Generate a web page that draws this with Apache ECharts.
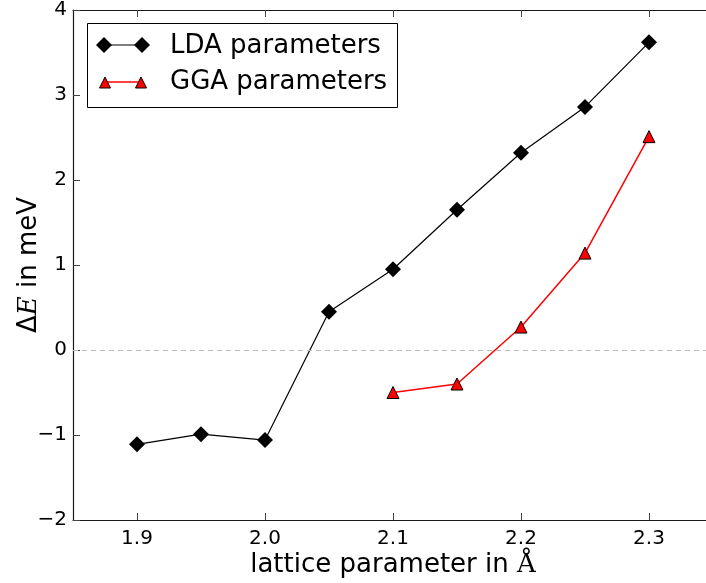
<!DOCTYPE html>
<html>
<head>
<meta charset="utf-8">
<script src="https://cdn.jsdelivr.net/npm/echarts@6/dist/echarts.min.js"></script>
<style>html,body{margin:0;padding:0;background:#fff;}#c{width:706px;height:583px;}</style>
</head>
<body>
<div id="c"></div>
<script>
const latticeLDA = [1.9, 1.95, 2.0, 2.05, 2.1, 2.15, 2.2, 2.25, 2.3];
const ldaValues = [-1.11, -0.99, -1.06, 0.45, 0.95, 1.65, 2.32, 2.86, 3.62];
const latticeGGA = [2.1, 2.15, 2.2, 2.25, 2.3];
const ggaValues = [-0.50, -0.40, 0.27, 1.14, 2.51];
const xTickValues = [1.9, 2.0, 2.1, 2.2, 2.3];
const seriesNames = ['LDA parameters', 'GGA parameters'];

const FONT = 'DejaVu Sans';
const chart = echarts.init(document.getElementById('c'), null, {renderer: 'canvas'});

const tickStyle = {inside: true, length: 7, lineStyle: {color: '#444', width: 1}};
const axLine = {show: true, onZero: false, lineStyle: {color: '#1a1a1a', width: 1.2}};

chart.setOption({
  animation: false,
  backgroundColor: '#fff',
  grid: {left: 73, top: 10, right: -7, bottom: 63, containLabel: false, outerBoundsMode: 'none'},
  xAxis: [{
    type: 'value', min: 1.85, max: 2.35,
    axisLine: axLine,
    axisTick: {...tickStyle, customValues: xTickValues},
    axisLabel: {customValues: xTickValues, formatter: v => v.toFixed(1), color: '#000', fontFamily: FONT, fontSize: 20, margin: 9},
    splitLine: {show: false},
    name: 'lattice parameter in {s|Å}',
    nameLocation: 'middle', nameGap: 32, nameMoveOverlap: false,
    nameTextStyle: {color: '#000', fontFamily: FONT, fontSize: 26,
      rich: {s: {fontFamily: 'DejaVu Serif', fontSize: 26, color: '#000'}}}
  }, {
    type: 'value', min: 1.85, max: 2.35, position: 'top',
    axisLine: axLine,
    axisTick: {...tickStyle, customValues: xTickValues},
    axisLabel: {show: false},
    splitLine: {show: false}
  }],
  yAxis: [{
    type: 'value', min: -2, max: 4, interval: 1,
    axisLine: axLine,
    axisTick: tickStyle,
    axisLabel: {formatter: v => String(v).replace('-', '\u2212'), color: '#000', fontFamily: FONT, fontSize: 20, margin: 6},
    splitLine: {show: false},
    name: '{d|Δ}{e|E} in meV',
    nameLocation: 'middle', nameGap: 31, nameRotate: 90, nameMoveOverlap: false,
    nameTextStyle: {color: '#000', fontFamily: FONT, fontSize: 26,
      rich: {
        d: {fontFamily: FONT, fontSize: 26, color: '#000'},
        e: {fontFamily: 'DejaVu Serif', fontStyle: 'italic', fontSize: 26, color: '#000'}
      }}
  }, {
    type: 'value', min: -2, max: 4, interval: 1, position: 'right',
    axisLine: axLine,
    axisTick: tickStyle,
    axisLabel: {show: false},
    splitLine: {show: false}
  }],
  series: [{
    name: seriesNames[0], type: 'line',
    data: latticeLDA.map((x, i) => [x, ldaValues[i]]),
    symbol: 'diamond', symbolSize: 16,
    itemStyle: {color: '#000', borderColor: '#000', borderWidth: 0},
    lineStyle: {color: '#000', width: 1.2},
    z: 3,
    markLine: {
      silent: true, symbol: 'none', label: {show: false},
      lineStyle: {color: '#bdbdbd', type: [5, 4], width: 1.2},
      data: [{yAxis: 0}]
    }
  }, {
    name: seriesNames[1], type: 'line',
    data: latticeGGA.map((x, i) => [x, ggaValues[i]]),
    symbol: 'triangle', symbolSize: 12,
    itemStyle: {color: '#ff0000', borderColor: '#000', borderWidth: 1},
    lineStyle: {color: '#ff0000', width: 1.5},
    z: 4
  }],
  graphic: [
    {type: 'rect', left: 87, top: 23, shape: {width: 310, height: 84}, style: {fill: '#fff', stroke: '#000', lineWidth: 1}, z: 10},
    {type: 'line', shape: {x1: 104, y1: 45, x2: 142, y2: 45}, style: {stroke: '#000', lineWidth: 1.2}, z: 11},
    {type: 'polygon', shape: {points: [[104, 37], [112, 45], [104, 53], [96, 45]]}, style: {fill: '#000'}, z: 12},
    {type: 'polygon', shape: {points: [[142, 37], [150, 45], [142, 53], [134, 45]]}, style: {fill: '#000'}, z: 12},
    {type: 'text', x: 170, y: 46, style: {text: seriesNames[0], font: '26px "DejaVu Sans"', fill: '#000', textVerticalAlign: 'middle'}, z: 12},
    {type: 'line', shape: {x1: 105, y1: 82, x2: 141, y2: 82}, style: {stroke: '#ff0000', lineWidth: 1.5}, z: 11},
    {type: 'polygon', shape: {points: [[105, 77], [110.5, 88], [99.5, 88]]}, style: {fill: '#ff0000', stroke: '#000', lineWidth: 1}, z: 12},
    {type: 'polygon', shape: {points: [[141, 77], [146.5, 88], [135.5, 88]]}, style: {fill: '#ff0000', stroke: '#000', lineWidth: 1}, z: 12},
    {type: 'text', x: 170, y: 82, style: {text: seriesNames[1], font: '26px "DejaVu Sans"', fill: '#000', textVerticalAlign: 'middle'}, z: 12}
  ]
});
</script>
</body>
</html>
